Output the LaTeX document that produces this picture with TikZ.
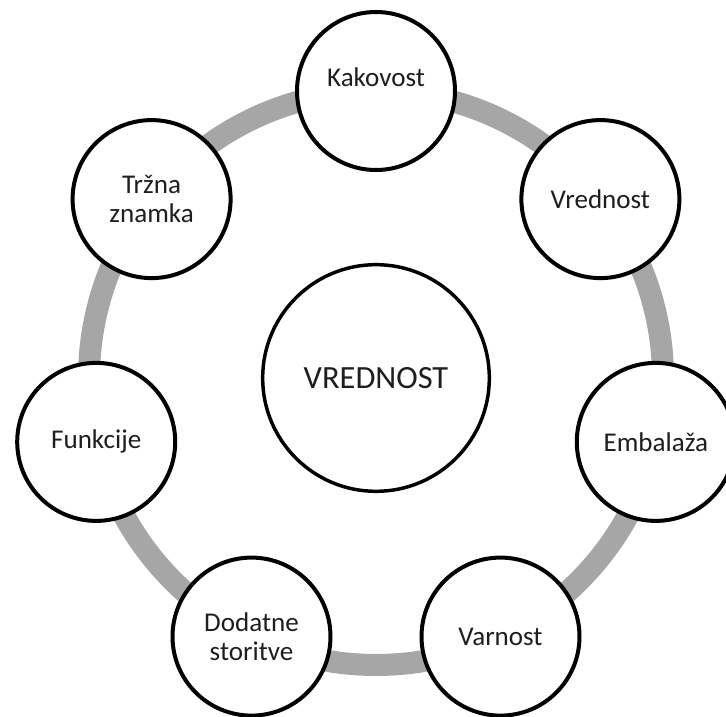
\documentclass[tikz,border=0pt]{standalone}
\usepackage{fontspec}
\setmainfont{Carlito}
\begin{document}
\begin{tikzpicture}[x=0.75pt,y=-0.75pt,
  ring/.style={draw=ringgray,line width=16.5pt},
  outer/.style={circle,draw=black,fill=white,line width=3pt,minimum size=118.5pt,inner sep=0pt,align=center,
    font=\fontsize{20.3}{21.5}\selectfont,text=txt},
  center/.style={circle,draw=black,fill=white,line width=2.6pt,minimum size=170pt,inner sep=0pt,
    font=\fontsize{24.3}{28}\selectfont,text=txt},
  lbl/.style={font=\fontsize{20.3}{21.5}\selectfont,text=txt,inner sep=0pt}]
\definecolor{ringgray}{HTML}{A6A6A6}
\definecolor{txt}{HTML}{1E1E1E}
\useasboundingbox (0,0) rectangle (726,717);
\clip (0,0) rectangle (726,717);
\fill[white] (0,0) rectangle (726,717);
\coordinate (c) at (376,378);
\draw[ring] (c) circle [radius=287];
\node[center] (vr) at (c) {VREDNOST};
\node[outer] (kak) at (376,91) {};
\node[lbl] (kaktext) at (376,77) {Kakovost};
\node[outer] (vre) at (600.4,199.1) {Vrednost};
\node[outer] (emb) at (655.8,441.9) {Embalaža};
\node[outer] (var) at (500.5,636.6) {Varnost};
\node[outer] (dod) at (251.5,636.6) {Dodatne\\storitve};
\node[outer] (fun) at (96.2,441.9) {Funkcije};
\node[outer] (trz) at (151.6,199.1) {Tržna\\znamka};
\end{tikzpicture}
\end{document}
